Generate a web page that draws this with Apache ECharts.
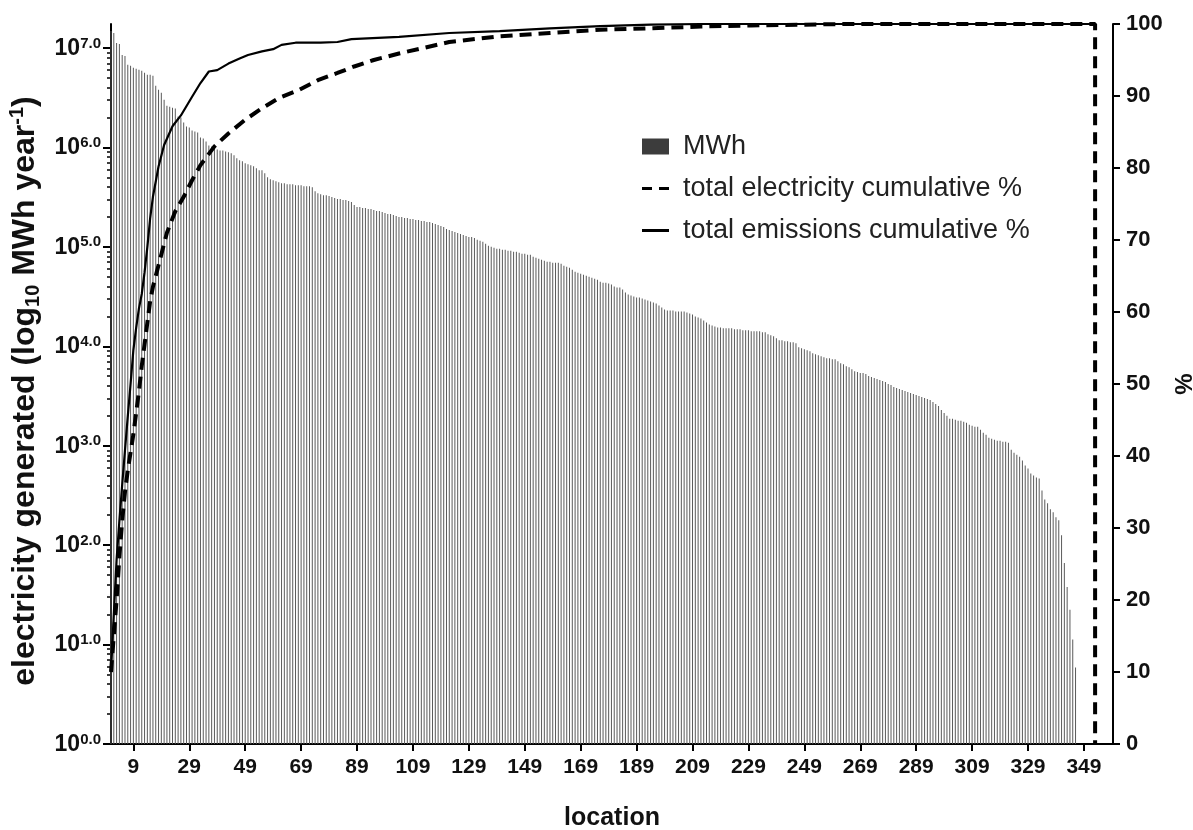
<!DOCTYPE html>
<html><head><meta charset="utf-8">
<script src="https://cdn.jsdelivr.net/npm/echarts@6/dist/echarts.min.js"></script>
<style>html,body{margin:0;padding:0;background:#fff}#c{width:1193px;height:830px}</style>
</head><body><div id="c"></div>
<script>
// log10 of electricity generated (MWh / year) for each location, in ranked order (location 1..346)
const mwhLog10 = [
  7.17,7.15,7.05,7.04,6.93,6.92,6.83,6.82,6.80,6.79,
  6.78,6.77,6.75,6.73,6.73,6.72,6.62,6.58,6.55,6.48,
  6.42,6.41,6.40,6.39,6.31,6.30,6.25,6.21,6.20,6.17,
  6.16,6.15,6.10,6.09,6.06,6.02,6.01,6.00,5.98,5.97,
  5.97,5.96,5.95,5.94,5.92,5.89,5.87,5.86,5.84,5.83,
  5.82,5.81,5.79,5.77,5.77,5.74,5.70,5.68,5.67,5.66,
  5.65,5.64,5.64,5.63,5.63,5.63,5.62,5.62,5.62,5.61,
  5.61,5.61,5.60,5.56,5.54,5.53,5.52,5.52,5.51,5.50,
  5.49,5.48,5.48,5.47,5.47,5.46,5.45,5.42,5.40,5.40,
  5.39,5.39,5.38,5.38,5.37,5.36,5.36,5.35,5.34,5.33,
  5.33,5.32,5.31,5.30,5.30,5.29,5.29,5.28,5.28,5.27,
  5.27,5.26,5.26,5.25,5.25,5.24,5.23,5.22,5.21,5.20,
  5.18,5.17,5.16,5.15,5.14,5.13,5.12,5.11,5.10,5.10,
  5.09,5.07,5.06,5.05,5.03,5.01,5.00,4.99,4.98,4.98,
  4.97,4.97,4.96,4.96,4.95,4.95,4.94,4.93,4.93,4.92,
  4.92,4.90,4.89,4.88,4.87,4.86,4.85,4.85,4.84,4.84,
  4.84,4.83,4.81,4.80,4.79,4.77,4.75,4.74,4.73,4.72,
  4.71,4.70,4.69,4.68,4.67,4.65,4.64,4.64,4.63,4.62,
  4.60,4.59,4.59,4.57,4.54,4.52,4.51,4.50,4.49,4.49,
  4.48,4.47,4.46,4.45,4.44,4.43,4.41,4.39,4.37,4.36,
  4.36,4.36,4.35,4.35,4.35,4.35,4.34,4.33,4.32,4.30,
  4.29,4.28,4.26,4.24,4.22,4.21,4.20,4.19,4.19,4.18,
  4.18,4.18,4.18,4.17,4.17,4.17,4.16,4.16,4.16,4.15,
  4.15,4.15,4.15,4.14,4.14,4.12,4.11,4.10,4.08,4.06,
  4.06,4.05,4.05,4.04,4.04,4.03,3.99,3.98,3.97,3.96,
  3.95,3.93,3.92,3.91,3.90,3.89,3.88,3.88,3.87,3.87,
  3.85,3.83,3.82,3.80,3.79,3.77,3.75,3.74,3.73,3.73,
  3.72,3.70,3.69,3.68,3.67,3.66,3.65,3.64,3.62,3.61,
  3.59,3.58,3.57,3.56,3.55,3.54,3.53,3.52,3.51,3.50,
  3.49,3.48,3.47,3.46,3.44,3.42,3.40,3.36,3.33,3.30,
  3.27,3.27,3.26,3.25,3.25,3.24,3.23,3.21,3.20,3.19,
  3.19,3.16,3.13,3.11,3.08,3.07,3.06,3.05,3.05,3.04,
  3.04,3.03,2.96,2.93,2.91,2.89,2.85,2.80,2.77,2.72,
  2.70,2.68,2.67,2.55,2.46,2.42,2.36,2.33,2.28,2.25,
  2.10,1.82,1.58,1.35,1.05,0.77
];

// total electricity cumulative % : [location, %]
const elecCum = [
  [1,10],[2,15],[3,20],[4,26],[5,31],[6,35],[7,38],[8,40.5],[9,43],[10,46],
  [11,49],[12,52.5],[13,55.5],[14,58.5],[15,61.5],[16,63.5],[17,65],[18,66.5],[19,68],[20,69.5],
  [21,71],[24,74],[27,76],[30,78.3],[33,80.4],[38,83],[43,84.8],[49,86.7],[55,88.3],[61,89.7],
  [68,90.8],[75,92.2],[82,93.2],[88,94.1],[95,95],[104,95.9],[122,97.5],[140,98.3],[158,98.75],
  [176,99.2],[194,99.4],[212,99.65],[230,99.8],[247,99.9],[265,100],[353,100],[353,0]
];

// total emissions cumulative % : [location, %]
const emisCum = [
  [1,10],[2,18],[3,25.6],[4,31],[5,36],[6,40.8],[7,45.5],[8,50],[9,54.7],[10,57.8],
  [11,60.5],[12,62.5],[13,65.5],[14,69],[15,73],[16,76],[18,80.2],[20,83.2],[23,85.8],[26,87.3],
  [30,89.9],[33,91.8],[36,93.4],[39,93.6],[43,94.5],[47,95.2],[50,95.7],[55,96.2],[59,96.5],
  [62,97.1],[67,97.4],[76,97.4],[82,97.5],[87,97.9],[104,98.2],[122,98.75],[140,99],[158,99.4],
  [176,99.7],[194,99.9],[212,100],[353,100]
];

const xTickLabels = [9,29,49,69,89,109,129,149,169,189,209,229,249,269,289,309,329,349];
const yLogTicks = [1,10,100,1000,10000,100000,1000000,10000000];
const yLogMinorTicks = [];
for (let k = 0; k < 7; k++) for (let m = 2; m <= 9; m++) yLogMinorTicks.push(m * Math.pow(10, k));

const FONT = 'Liberation Sans, Arial, Helvetica, sans-serif';
const LOG_MAX = 17420000;
const axisLineStyle = { color: '#000', width: 2 };

const chart = echarts.init(document.getElementById('c'), null, { renderer: 'canvas' });
chart.setOption({
  animation: false,
  backgroundColor: '#fff',
  textStyle: { fontFamily: FONT },
  grid: { left: 111, right: 80, top: 24, bottom: 86, containLabel: false, outerBoundsMode: 'none' },
  legend: {
    orient: 'vertical', left: 642, top: 133, padding: 0,
    itemWidth: 27, itemHeight: 16, itemGap: 15,
    textStyle: { fontSize: 27, color: '#222', fontFamily: FONT, lineHeight: 26, padding: [0, 0, 0, 9] },
    data: [
      { name: 'MWh', icon: 'rect', itemStyle: { color: '#3c3c3c' } },
      { name: 'total electricity cumulative %', icon: 'path://M0,0h0.01v0.01h-0.01z M0,6.5h10v3h-10z M17,6.5h10v3h-10z M26.99,15.99h0.01v0.01h-0.01z', itemStyle: { color: '#000' } },
      { name: 'total emissions cumulative %', icon: 'path://M0,0h0.01v0.01h-0.01z M0,6.5h27v3h-27z M26.99,15.99h0.01v0.01h-0.01z', itemStyle: { color: '#000' } }
    ]
  },
  xAxis: {
    type: 'value', min: 1, max: 359.4,
    name: 'location', nameLocation: 'middle', nameGap: 62,
    nameTextStyle: { fontSize: 25, fontWeight: 'bold', color: '#111', fontFamily: FONT },
    axisLine: { onZero: false, lineStyle: axisLineStyle },
    axisTick: { customValues: xTickLabels, length: 7, lineStyle: axisLineStyle },
    axisLabel: { customValues: xTickLabels, fontSize: 21, fontWeight: 'bold', color: '#111', margin: 13, fontFamily: FONT },
    splitLine: { show: false }
  },
  yAxis: [
    {
      type: 'log', logBase: 10, min: 1, max: LOG_MAX, position: 'left',
      name: 'electricity generated (log{sub|10} MWh year{sup|-1})',
      nameLocation: 'middle', nameGap: 64, nameRotate: 90,
      nameTextStyle: {
        fontSize: 32, fontWeight: 'bold', color: '#111', fontFamily: FONT, lineHeight: 36,
        padding: [0, 14, 0, 0],
        rich: {
          sub: { fontSize: 20, fontWeight: 'bold', color: '#111', fontFamily: FONT, lineHeight: 21, verticalAlign: 'bottom' },
          sup: { fontSize: 20, fontWeight: 'bold', color: '#111', fontFamily: FONT, lineHeight: 21, verticalAlign: 'top' }
        }
      },
      axisLine: { show: true, lineStyle: axisLineStyle },
      axisTick: { show: true, customValues: yLogTicks, length: 8, lineStyle: axisLineStyle },
      axisLabel: {
        customValues: yLogTicks, margin: 10,
        formatter: function (v) { return '{b|10}{s|' + Math.round(Math.log10(v)).toFixed(1) + '}'; },
        rich: {
          b: { fontSize: 23, fontWeight: 'bold', color: '#111', fontFamily: FONT, lineHeight: 24, verticalAlign: 'bottom' },
          s: { fontSize: 15, fontWeight: 'bold', color: '#111', fontFamily: FONT, lineHeight: 14, verticalAlign: 'top' }
        }
      },
      splitLine: { show: false }
    },
    {
      type: 'value', min: 0, max: 100, interval: 10, position: 'right',
      name: '%', nameLocation: 'middle', nameGap: 56, nameRotate: 90,
      nameTextStyle: { fontSize: 24, fontWeight: 'bold', color: '#111', fontFamily: FONT },
      axisLine: { show: true, lineStyle: axisLineStyle },
      axisTick: { show: true, length: 7, lineStyle: axisLineStyle },
      axisLabel: { fontSize: 22, fontWeight: 'bold', color: '#111', margin: 13, fontFamily: FONT },
      splitLine: { show: false }
    },
    {
      type: 'log', logBase: 10, min: 1, max: LOG_MAX, position: 'left',
      axisLine: { show: false },
      axisTick: { show: true, customValues: yLogMinorTicks, length: 4, lineStyle: { color: '#000', width: 1.5 } },
      axisLabel: { show: false },
      splitLine: { show: false }
    }
  ],
  series: [
    {
      name: 'MWh', type: 'bar', xAxisIndex: 0, yAxisIndex: 0,
      barWidth: 1, itemStyle: { color: '#5a5a5a' },
      data: mwhLog10.map(function (e, i) { return [i + 1, Math.pow(10, e)]; }),
      z: 1
    },
    {
      name: 'total electricity cumulative %', type: 'line', xAxisIndex: 0, yAxisIndex: 1,
      data: elecCum, symbol: 'none', smooth: false, clip: false,
      itemStyle: { color: '#000' },
      lineStyle: { type: [12, 7], width: 4, color: '#000', cap: 'butt' },
      z: 3
    },
    {
      name: 'total emissions cumulative %', type: 'line', xAxisIndex: 0, yAxisIndex: 1,
      data: emisCum, symbol: 'none', smooth: false, clip: false,
      itemStyle: { color: '#000' },
      lineStyle: { width: 2.2, color: '#000' },
      z: 4
    }
  ]
});
</script>
</body></html>
